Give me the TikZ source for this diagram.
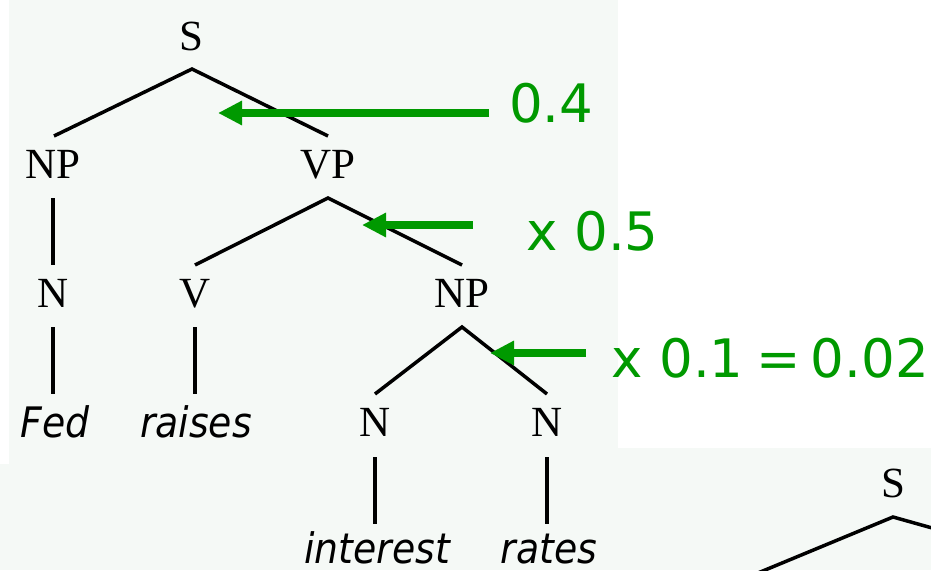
\documentclass[tikz,border=0pt]{standalone}
\usepackage{fontspec}
\setmainfont{Liberation Serif}
\newfontfamily\wordfont{DejaVu Sans Condensed}
\newfontfamily\numfont{DejaVu Sans}
\usetikzlibrary{arrows.meta}
\definecolor{panel}{RGB}{245,249,246}
\definecolor{pgreen}{RGB}{0,153,0}
\tikzset{
  cat/.style={inner sep=0pt, anchor=base, font=\fontsize{43}{43}\selectfont},
  word/.style={inner sep=0pt, anchor=base, font=\wordfont\itshape\fontsize{42}{42}\selectfont},
  prob/.style={inner sep=0pt, anchor=base west, text=pgreen, font=\numfont\fontsize{53}{53}\selectfont},
  edge/.style={line width=3.5pt, black},
  garrow/.style={line width=7.5pt, pgreen, -{Triangle[length=24pt,width=23pt]}}
}
\begin{document}
\begin{tikzpicture}[x=1pt,y=-1pt]
\useasboundingbox (0,0) rectangle (931,570);
\fill[panel] (0,0) rectangle (931,570);
\fill[white] (0,0) rectangle (9,464);
\fill[white] (618,0) rectangle (931,448);
\begin{scope}
\clip (0,0) rectangle (931,570);
% labels
\node[cat] (S) at (191,50) {S};
\node[cat] (NPa) at (53,178) {NP};
\node[cat] (VP) at (328,178) {VP};
\node[cat] (Na) at (53,307) {N};
\node[cat] (V) at (195,307) {V};
\node[cat] (NPb) at (462,307) {NP};
\node[cat] (Nb) at (375,436) {N};
\node[cat] (Nc) at (547,436) {N};
\node[word] (fed) at (55,437) {Fed};
\node[word] (raises) at (196,437) {raises};
\node[word] (interest) at (377,563) {interest};
\node[word] (rates) at (549,563) {rates};
\node[cat] (S2) at (893,497) {S};
% branch coordinates
\coordinate (Sa) at (192,69);
\coordinate (NPat) at (54,136);
\coordinate (VPt) at (328,136);
\coordinate (NPab) at (53,198);
\coordinate (Nat) at (53,265);
\coordinate (Nab) at (53,327);
\coordinate (fedt) at (53,394);
\coordinate (VPa) at (328,198);
\coordinate (Vt) at (195,265);
\coordinate (NPbt) at (462,265);
\coordinate (Vb) at (195,327);
\coordinate (raisest) at (195,394);
\coordinate (NPba) at (462,327);
\coordinate (Nbt) at (375,394);
\coordinate (Nct) at (547,394);
\coordinate (Nbb) at (375,457);
\coordinate (interestt) at (375,524);
\coordinate (Ncb) at (547,457);
\coordinate (ratest) at (547,524);
\coordinate (S2a) at (893,517);
\coordinate (S2l) at (700,597);
\coordinate (S2r) at (950,533);
% branches
\draw[edge] (NPat) -- (Sa) -- (VPt);
\draw[edge] (NPab) -- (Nat);
\draw[edge] (Nab) -- (fedt);
\draw[edge] (Vt) -- (VPa) -- (NPbt);
\draw[edge] (Vb) -- (raisest);
\draw[edge] (Nbt) -- (NPba) -- (Nct);
\draw[edge] (Nbb) -- (interestt);
\draw[edge] (Ncb) -- (ratest);
\draw[edge] (S2l) -- (S2a) -- (S2r);
% arrows
\coordinate (a1s) at (489,113);
\coordinate (a1t) at (218,113);
\coordinate (a2s) at (473,225);
\coordinate (a2t) at (362,225);
\coordinate (a3s) at (586,353);
\coordinate (a3t) at (490,353);
\draw[garrow] (a1s) -- (a1t);
\draw[garrow] (a2s) -- (a2t);
\draw[garrow] (a3s) -- (a3t);
\node[prob] (p1) at (509,122) {0.4};
\node[prob] (p2) at (526,250) {x 0.5};
\node[prob] (p3) at (611,377) {x 0.1\kern-4pt{} =\kern-7pt{} 0.02};
\end{scope}
\end{tikzpicture}
\end{document}
